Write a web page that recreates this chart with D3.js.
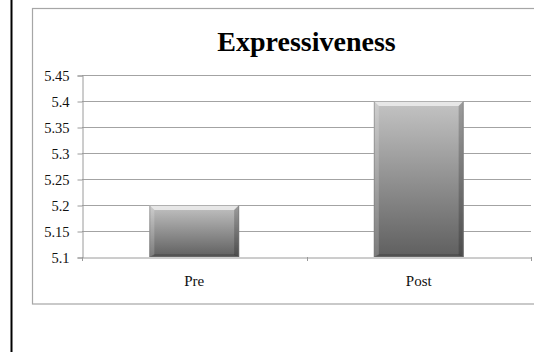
<!DOCTYPE html>
<html>
<head>
<meta charset="utf-8">
<script src="https://cdn.jsdelivr.net/npm/d3@7"></script>
<style>
  html, body { margin: 0; padding: 0; background: #fff; }
  svg { display: block; }
</style>
</head>
<body>
<svg id="chart" width="534" height="352"></svg>
<script>
// Chart data
const categories = ["Pre", "Post"];
const values = [5.2, 5.4];
const yTicks = [5.1, 5.15, 5.2, 5.25, 5.3, 5.35, 5.4, 5.45];
const yTickLabels = ["5.1", "5.15", "5.2", "5.25", "5.3", "5.35", "5.4", "5.45"];
const title = "Expressiveness";

const svg = d3.select("#chart");
const W = 534, H = 352;
const plot = { left: 82, right: 531, top: 75, bottom: 257 };
const serif = "Liberation Serif, DejaVu Serif, serif";

// Page margin rule on the left
svg.append("line")
  .attr("x1", 11.5).attr("x2", 11.5).attr("y1", 0).attr("y2", H)
  .attr("stroke", "#000").attr("stroke-width", 2);

// Chart frame
svg.append("rect")
  .attr("x", 32.5).attr("y", 8.5).attr("width", 510).attr("height", 295.5)
  .attr("fill", "#fff").attr("stroke", "#a6a6a6").attr("stroke-width", 1.2);

const x = d3.scaleBand().domain(categories)
  .range([plot.left, plot.right]).paddingInner(0.6).paddingOuter(0.3);
const y = d3.scaleLinear().domain([5.1, 5.45]).range([plot.bottom, plot.top]);

// Gradients
const defs = svg.append("defs");
const g1 = defs.append("linearGradient").attr("id", "barGrad")
  .attr("x1", 0).attr("y1", 0).attr("x2", 0).attr("y2", 1);
g1.append("stop").attr("offset", "0%").attr("stop-color", "#c4c4c4");
g1.append("stop").attr("offset", "100%").attr("stop-color", "#5f5f5f");

// Gridlines
svg.append("g").selectAll("line").data(yTicks.slice(1)).join("line")
  .attr("x1", plot.left).attr("x2", plot.right)
  .attr("y1", d => Math.round(y(d)) + 0.5).attr("y2", d => Math.round(y(d)) + 0.5)
  .attr("stroke", "#a3a3a3").attr("stroke-width", 1);

// Y axis
const yAxis = d3.axisLeft(y).tickValues(yTicks)
  .tickFormat((d, i) => yTickLabels[i]).tickSize(5).tickPadding(8);
const gy = svg.append("g").attr("transform", `translate(${plot.left + 0.5},0.5)`).call(yAxis);
gy.attr("font-family", null).attr("font-size", null);
gy.select(".domain").attr("stroke", "#9a9a9a");
gy.selectAll(".tick line").attr("stroke", "#9a9a9a");
gy.selectAll("text")
  .style("font-family", serif).style("font-size", "14.5px").attr("fill", "#111");

// Bars
const bars = svg.append("g");
categories.forEach((c, i) => {
  const bx = x(c), bw = x.bandwidth();
  const by = y(values[i]), bh = y(5.1) - y(values[i]);
  const g = bars.append("g");
  g.append("rect").attr("x", bx).attr("y", by).attr("width", bw).attr("height", bh)
    .attr("fill", "url(#barGrad)");
  const b = 5;
  // top bevel highlight
  g.append("polygon")
    .attr("points", [[bx, by], [bx + bw, by], [bx + bw - b, by + b], [bx + b, by + b]].join(" "))
    .attr("fill", "#ededed").attr("opacity", 0.85);
  // left bevel
  g.append("polygon")
    .attr("points", [[bx, by], [bx + b, by + b], [bx + b, by + bh - 2], [bx, by + bh]].join(" "))
    .attr("fill", "#ffffff").attr("opacity", 0.18);
  // right bevel
  g.append("polygon")
    .attr("points", [[bx + bw, by], [bx + bw, by + bh], [bx + bw - b, by + bh - 2], [bx + bw - b, by + b]].join(" "))
    .attr("fill", "#000").attr("opacity", 0.2);
  // bottom bevel
  g.append("polygon")
    .attr("points", [[bx, by + bh], [bx + b, by + bh - 3], [bx + bw - b, by + bh - 3], [bx + bw, by + bh]].join(" "))
    .attr("fill", "#000").attr("opacity", 0.15);
  g.append("rect").attr("x", bx + 0.5).attr("y", by + 0.5).attr("width", bw - 1).attr("height", bh - 1)
    .attr("fill", "none").attr("stroke", "#7a7a7a").attr("stroke-opacity", 0.5);
});

// X axis
const xAxis = d3.axisBottom(x).tickSize(0).tickPadding(18);
const gx = svg.append("g").attr("transform", `translate(0,${plot.bottom + 0.5})`).call(xAxis);
gx.attr("font-family", null).attr("font-size", null);
gx.select(".domain").attr("stroke", "#9a9a9a");
gx.selectAll("text")
  .style("font-family", serif).style("font-size", "15px").attr("fill", "#111");
// category boundary ticks
const bounds = [plot.left, (plot.left + plot.right) / 2, plot.right];
svg.append("g").selectAll("line").data(bounds).join("line")
  .attr("x1", d => Math.round(d) + 0.5).attr("x2", d => Math.round(d) + 0.5)
  .attr("y1", plot.bottom).attr("y2", plot.bottom + 4)
  .attr("stroke", "#9a9a9a");

// Title
svg.append("text")
  .attr("x", (plot.left + plot.right) / 2).attr("y", 51)
  .attr("text-anchor", "middle")
  .style("font-family", serif).style("font-weight", "bold").style("font-size", "28px")
  .attr("fill", "#000").text(title);
</script>
</body>
</html>
